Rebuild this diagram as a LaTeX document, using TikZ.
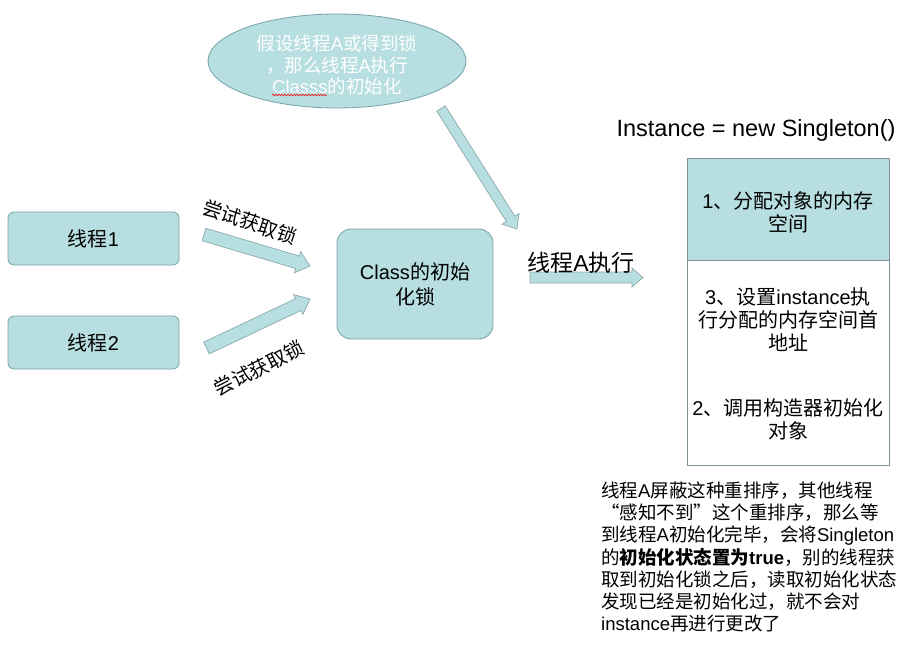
\documentclass[tikz,border=0pt]{standalone}
\usepackage{fontspec}
\setmainfont{Liberation Sans}
\newfontfamily\cjk{Noto Sans CJK SC}
\usetikzlibrary{calc,decorations.pathmorphing,shapes.geometric}
\definecolor{tealfill}{RGB}{183,222,224}
\definecolor{tealdraw}{RGB}{118,163,170}
\definecolor{boxdraw}{RGB}{125,145,150}
\definecolor{arrowdraw}{RGB}{140,170,172}
\newcommand\C[1]{{\cjk #1}}
% block arrow: #1 start, #2 tip, #3 shaft half width, #4 head half width, #5 head length
\newcommand\blockarrow[5]{%
  \draw[barrowstyle] let \p1=($(#2)-(#1)$), \n1={atan2(\y1,\x1)}, \n2={veclen(\x1,\y1)} in
    ($(#1)+(\n1+90:#3)$) -- ($(#1)+(\n1:{\n2-#5})+(\n1+90:#3)$) -- ($(#1)+(\n1:{\n2-#5})+(\n1+90:#4)$)
    -- (#2) -- ($(#1)+(\n1:{\n2-#5})+(\n1-90:#4)$) -- ($(#1)+(\n1:{\n2-#5})+(\n1-90:#3)$)
    -- ($(#1)+(\n1-90:#3)$) -- cycle;}
\tikzset{
  barrowstyle/.style={draw=arrowdraw, fill=tealfill, line width=0.7pt, line join=miter},
  thread/.style={draw=tealdraw, fill=tealfill, rounded corners=6pt, minimum width=171pt,
    minimum height=53pt, font=\fontsize{20}{24}\selectfont, line width=0.8pt, inner sep=0pt},
  lockbox/.style={draw=tealdraw, fill=tealfill, rounded corners=14pt, minimum width=156pt,
    minimum height=110pt, font=\fontsize{20}{25}\selectfont, align=center, line width=0.8pt},
  ellshape/.style={ellipse, draw=tealdraw, fill=tealfill, minimum width=258pt,
    minimum height=94pt, line width=0.8pt, inner sep=0pt},
  elltext/.style={text=white, font=\fontsize{18.5}{21.5}\selectfont, align=center, inner sep=0pt},
  arrlabel/.style={font=\fontsize{19.5}{23}\selectfont, inner sep=0pt},
  steptext/.style={font=\fontsize{20}{23}\selectfont, align=center, inner sep=0pt},
  notetext/.style={font=\fontsize{18.5}{22.3}\selectfont, align=left, inner sep=0pt},
}
\begin{document}
\begin{tikzpicture}[x=1pt,y=1pt]
\useasboundingbox[fill=white] (0,0) rectangle (913,-656);

% ellipse
\node[ellshape] (ell) at (337,-61) {};
\node[elltext] (elltxt) at (337,-65) {\C{假设线程}A\C{或得到锁}\\\C{，那么线程}A\C{执行}\\Classs\C{的初始化}};
\draw[red, line width=0.6pt, decorate, decoration={snake, amplitude=0.7pt, segment length=3pt}]
  (272,-95) -- (327,-95);

% threads
\node[thread] (t1) at (93.5,-238.5) {\C{线程}1};
\node[thread] (t2) at (93.5,-342.5) {\C{线程}2};

% lock box
\node[lockbox] (lock) at (415,-284) {Class\C{的初始}\\\C{化锁}};

% arrow coordinates
\coordinate (a1s) at (204,-234.5);
\coordinate (a1e) at (310,-266);
\coordinate (a2s) at (206.5,-348);
\coordinate (a2e) at (310,-299);
\coordinate (a3s) at (441,-108.5);
\coordinate (a3e) at (517,-229);
\coordinate (a4s) at (530,-277.5);
\coordinate (a4e) at (643,-277.5);

\blockarrow{a1s}{a1e}{6.5}{11}{13}
\blockarrow{a2s}{a2e}{6.5}{11}{13}
\blockarrow{a3s}{a3e}{5}{10}{12}
\blockarrow{a4s}{a4e}{5.5}{9.5}{11}

\node[arrlabel, rotate=-19] (lab1) at (250,-222) {\C{尝试获取锁}};
\node[arrlabel, rotate=27] (lab2) at (259,-368) {\C{尝试获取锁}};
\node[font=\fontsize{23}{27}\selectfont, inner sep=0pt] (lab3) at (581,-263) {\C{线程}A\C{执行}};

% title
\node[font=\fontsize{23.5}{28}\selectfont, inner sep=0pt] (title) at (756,-130) {Instance = new Singleton()};

% right box
\coordinate (rb1) at (687,-158);
\coordinate (rb2) at (889,-465);
\coordinate (rbm) at (889,-260);
\fill[tealfill] (rb1) rectangle (rbm);
\draw[boxdraw, line width=0.8pt] (rb1) rectangle (rb2);
\draw[boxdraw, line width=0.8pt] (rb1 |- rbm) -- (rbm);

\node[steptext] (s1) at (788,-212) {1\C{、分配对象的内存}\\\C{空间}};
\node[steptext] (s3) at (788,-320) {3\C{、设置}instance\C{执}\\\C{行分配的内存空间首}\\\C{地址}};
\node[steptext] (s2) at (788,-419) {2\C{、调用构造器初始化}\\\C{对象}};

% note
\node[notetext, anchor=west] (note) at (601,-557) {%
\C{线程}A\C{屏蔽这种重排序，其他线程}\\
\C{“感知不到”这个重排序，那么等}\\
\C{到线程}A\C{初始化完毕，会将}Singleton\\
\C{的}{\bfseries\cjk 初始化状态置为}{\bfseries true}\C{，别的线程获}\\
\C{取到初始化锁之后，读取初始化状态}\\
\C{发现已经是初始化过，就不会对}\\
instance\C{再进行更改了}};
\end{tikzpicture}
\end{document}
